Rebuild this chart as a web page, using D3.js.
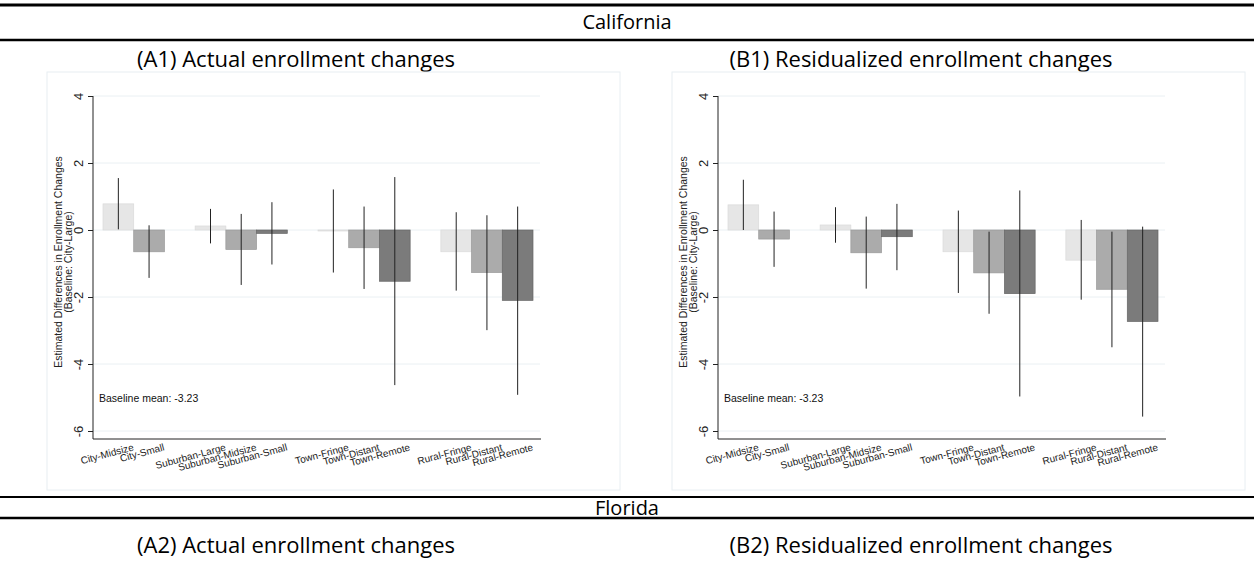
<!DOCTYPE html><html><head><meta charset="utf-8"><script src="https://cdn.jsdelivr.net/npm/d3@7"></script>
<style>body{margin:0;background:#fff}</style></head><body><svg id="c" width="1254" height="563"></svg>
<script>
const categories=["City-Midsize","City-Small","g1","Suburban-Large","Suburban-Midsize","Suburban-Small","g2","Town-Fringe","Town-Distant","Town-Remote","g3","Rural-Fringe","Rural-Distant","Rural-Remote"];
const shades=["light","mid",null,"light","mid","dark",null,"light","mid","dark",null,"light","mid","dark"];
const actual=[0.78,-0.65,null,0.12,-0.58,-0.1,null,-0.03,-0.53,-1.53,null,-0.65,-1.27,-2.1];
const actualLo=[0.02,-1.43,null,-0.4,-1.64,-1.03,null,-1.27,-1.76,-4.63,null,-1.81,-2.99,-4.92];
const actualHi=[1.55,0.14,null,0.63,0.48,0.83,null,1.21,0.7,1.58,null,0.53,0.44,0.7];
const resid=[0.75,-0.27,null,0.15,-0.68,-0.2,null,-0.65,-1.28,-1.9,null,-0.9,-1.77,-2.73];
const residLo=[0,-1.1,null,-0.38,-1.75,-1.2,null,-1.88,-2.5,-4.97,null,-2.08,-3.5,-5.57];
const residHi=[1.5,0.55,null,0.68,0.4,0.78,null,0.58,-0.05,1.18,null,0.3,-0.05,0.1];
const yTicks=[4,2,0,-2,-4,-6];
const fill={light:"#e6e6e6",mid:"#ababab",dark:"#7b7b7b"};
const stroke={light:"#dadada",mid:"#999",dark:"#666"};
const svg=d3.select("#c");
const F="'Open Sans',sans-serif";
const S="'Liberation Sans',Arial,sans-serif";
[[5,3],[40,2.5],[497,2],[518,2.5]].forEach(([y,w])=>svg.append("line").attr("x1",0).attr("x2",1254).attr("y1",y).attr("y2",y).attr("stroke","#000").attr("stroke-width",w));
svg.append("text").attr("x",627).attr("y",29).attr("text-anchor","middle").attr("font-family",F).attr("font-size",20).text("California");
svg.append("text").attr("x",627).attr("y",515).attr("text-anchor","middle").attr("font-family",F).attr("font-size",20).text("Florida");
const titles=[["(A1) Actual enrollment changes","(A2) Actual enrollment changes"],["(B1) Residualized enrollment changes","(B2) Residualized enrollment changes"]];
function panel(off,vals,lo,hi,t){
  svg.append("text").attr("x",off+296).attr("y",67).attr("text-anchor","middle").attr("font-family",F).attr("font-size",22).text(t[0]);
  svg.append("text").attr("x",off+296).attr("y",553).attr("text-anchor","middle").attr("font-family",F).attr("font-size",22).text(t[1]);
  svg.append("rect").attr("x",off+47).attr("y",72).attr("width",573).attr("height",418).attr("fill","#fff").attr("stroke","#e8eef2");
  const y=d3.scaleLinear().domain([-6,4]).range([431,96]);
  const x=d3.scaleBand().domain(categories).range([off+103,off+533]).padding(0);
  const g=svg.append("g");
  yTicks.forEach(v=>g.append("line").attr("x1",off+93).attr("x2",off+540).attr("y1",y(v)).attr("y2",y(v)).attr("stroke","#eaf0f3"));
  categories.forEach((c,i)=>{ if(vals[i]==null)return;
    g.append("rect").attr("x",x(c)).attr("width",x.bandwidth()).attr("y",y(Math.max(0,vals[i]))).attr("height",Math.abs(y(vals[i])-y(0))).attr("fill",fill[shades[i]]).attr("stroke",stroke[shades[i]]).attr("stroke-width",0.7);
  });
  categories.forEach((c,i)=>{ if(vals[i]==null)return;
    const cx=x(c)+x.bandwidth()/2;
    g.append("line").attr("x1",cx).attr("x2",cx).attr("y1",y(lo[i])).attr("y2",y(hi[i])).attr("stroke","#222").attr("stroke-width",1);
    g.append("text").attr("transform",`translate(${cx+14},${443}) rotate(-15)`).attr("text-anchor","end").attr("dy","0.75em").attr("font-family",S).attr("font-size",10).attr("fill","#222").text(c);
  });
  const ax=g.append("g").attr("transform",`translate(${off+93},0)`).call(d3.axisLeft(y).tickValues(yTicks).tickSize(5).tickFormat(d=>d));
  ax.select(".domain").attr("stroke","#222").attr("d","M0,96V439");
  ax.selectAll(".tick line").attr("stroke","#222");
  ax.selectAll(".tick text").attr("font-family",S).attr("font-size",13).attr("fill","#222").attr("x",null).attr("dy",null).attr("text-anchor","middle").attr("transform","translate(-13,0) rotate(-90)").attr("dominant-baseline","middle");
  g.append("line").attr("x1",off+93).attr("x2",off+541).attr("y1",439).attr("y2",439).attr("stroke","#222");
  g.append("text").attr("transform",`translate(${off+62},262) rotate(-90)`).attr("text-anchor","middle").attr("font-family",S).attr("font-size",10.5).attr("fill","#222").text("Estimated Differences in Enrollment Changes");
  g.append("text").attr("transform",`translate(${off+72},262) rotate(-90)`).attr("text-anchor","middle").attr("font-family",S).attr("font-size",10.5).attr("fill","#222").text("(Baseline: City-Large)");
  g.append("text").attr("x",off+99).attr("y",402).attr("font-family",S).attr("font-size",10.5).attr("fill","#111").text("Baseline mean: -3.23");
}
panel(0,actual,actualLo,actualHi,titles[0]);
panel(625,resid,residLo,residHi,titles[1]);
</script></body></html>
